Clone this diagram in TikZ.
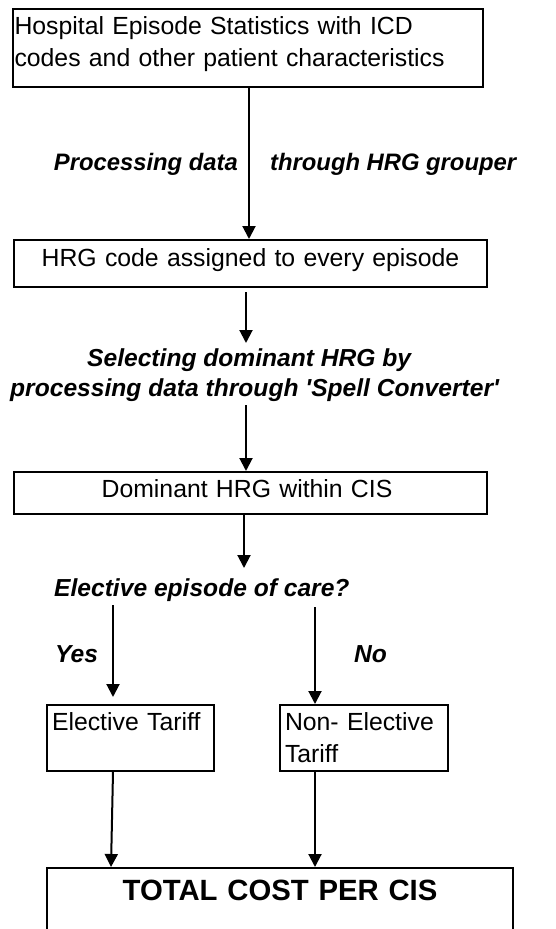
\documentclass[tikz,border=0pt]{standalone}
\usepackage{fontspec}
\setmainfont{Liberation Sans}
\usetikzlibrary{arrows.meta}
\begin{document}
\begin{tikzpicture}[x=1pt,y=-1pt,
  box/.style={draw, line width=2pt, inner ysep=0pt, inner xsep=1.5pt, anchor=north west,
    font=\fontsize{24.8}{32}\selectfont},
  lab/.style={inner sep=0pt, font=\fontsize{24.6}{30}\selectfont\bfseries\itshape},
  arr/.style={line width=2pt, -{Triangle[length=13pt,width=13pt]}}]
\path[use as bounding box, clip] (0,0) rectangle (555,929);

% boxes
\node[box, minimum width=470pt, minimum height=78pt, text width=467pt, align=left,
  text height=25pt, text depth=53pt] (hes) at (12,8)
  {Hospital Episode Statistics with ICD\\codes and other patient characteristics};
\node[box, minimum width=473pt, minimum height=47pt, text width=467pt, align=center,
  text height=26pt, text depth=21pt] (hrg) at (13,239)
  {HRG code assigned to every episode};
\node[box, minimum width=473pt, minimum height=42pt, text width=467pt, align=center,
  text height=25.7pt, text depth=16.3pt] (dom) at (13,471)
  {\hspace*{-7pt}Dominant HRG within CIS};
\node[box, inner xsep=5pt, minimum width=167pt, minimum height=66pt, text width=157pt, align=left,
  text height=25pt, text depth=41pt] (el) at (46,704)
  {Elective Tariff};
\node[box, inner xsep=5pt, minimum width=168pt, minimum height=66pt, text width=158pt, align=left,
  text height=25pt, text depth=41pt, font=\fontsize{24.8}{32.7}\selectfont] (ne) at (279,704)
  {Non- Elective\\Tariff};
\node[box, minimum width=466pt, minimum height=75pt, text width=463pt, align=center,
  text height=32pt, text depth=43pt, font=\fontsize{29.3}{34}\selectfont\bfseries] (tot) at (46,867)
  {TOTAL COST PER CIS};

% labels
\node[lab, font=\fontsize{23.8}{30}\selectfont\bfseries\itshape, anchor=base east] (proc1) at (238,170) {Processing data};
\node[lab, font=\fontsize{23.8}{30}\selectfont\bfseries\itshape, anchor=base west] (proc2) at (270,170) {through HRG grouper};
\node[lab, anchor=base west] (sel1) at (87,366.7) {Selecting dominant HRG by};
\node[lab, anchor=base west] (sel2) at (10,396.7) {processing data through \textquotesingle Spell Converter\textquotesingle};
\node[lab, anchor=base west] (q) at (54,596.7) {Elective episode of care?};
\node[lab, anchor=base west] (yes) at (55,662) {Yes};
\node[lab, anchor=base west] (no) at (354,662) {No};

% connectors
\draw[arr] ([xshift=237pt]hes.south west) -- ([xshift=236pt]hrg.north west);
\coordinate (a2s) at (246,292);
\coordinate (a2e) at (246,343);
\draw[arr] (a2s) -- (a2e);
\coordinate (a3s) at (246,405);
\draw[arr] (a3s) -- (a3s |- dom.north);
\coordinate (a4) at (244,568);
\draw[arr] (a4 |- dom.south) -- (a4);
\coordinate (ys) at (113,605);
\coordinate (ye) at (113,697);
\draw[arr] (ys) -- (ye);
\coordinate (ns) at (315,607);
\draw[arr] (ns) -- (ns |- ne.north);
\draw[arr] ([xshift=67pt]el.south west) -- ([xshift=65pt]tot.north west);
\draw[arr] ([xshift=36pt]ne.south west) -- ([xshift=269pt]tot.north west);
\end{tikzpicture}
\end{document}
